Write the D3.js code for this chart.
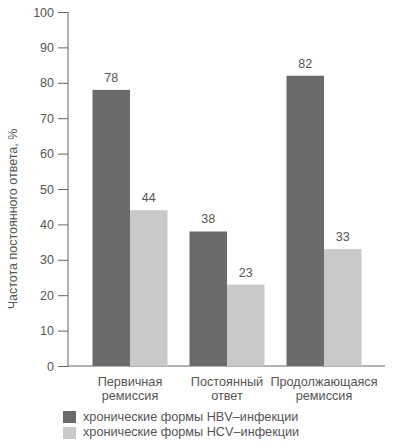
<!DOCTYPE html>
<html><head><meta charset="utf-8">
<script src="https://cdn.jsdelivr.net/npm/d3@7"></script>
<style>body{margin:0;background:#fff;} text{font-family:"Liberation Sans",Arial,sans-serif;fill:#555;}</style>
</head><body>
<svg id="c" width="400" height="442"></svg>
<script>
const categories = [["Первичная","ремиссия"],["Постоянный","ответ"],["Продолжающаяся","ремиссия"]];
const seriesNames = ["хронические формы HBV–инфекции","хронические формы HCV–инфекции"];
const hbv = [78, 38, 82];
const hcv = [44, 23, 33];
const yTicks = [0,10,20,30,40,50,60,70,80,90,100];
const colors = ["#6b6b6b","#c9c9c9"];

const svg = d3.select("#c");
const x0 = d3.scaleBand().domain(d3.range(categories.length)).range([92.5,361.5]).paddingInner(22/97).paddingOuter(0);
const x1 = d3.scaleBand().domain([0,1]).range([0,x0.bandwidth()]);
const y = d3.scaleLinear().domain([0,100]).range([366,12]);

const yAxis = d3.axisLeft(y).tickValues(yTicks).tickSize(10).tickPadding(4);
const gy = svg.append("g").attr("transform","translate(68,0)").call(yAxis);
gy.selectAll("path,line").attr("stroke","#666");
gy.select(".domain").attr("d","M0,12V366");
gy.selectAll("text").style("font-size","12.5px").style("fill","#555").style("font-family","Liberation Sans, Arial, sans-serif");

svg.append("line").attr("x1",68).attr("x2",385).attr("y1",y(0)).attr("y2",y(0)).attr("stroke","#666");

const data = categories.map((c,i)=>[hbv[i],hcv[i]]);
const g = svg.append("g");
data.forEach((vals,i)=>{
  vals.forEach((v,j)=>{
    const bx = x0(i)+x1(j);
    g.append("rect").attr("x",bx).attr("y",y(v)).attr("width",x1.bandwidth()).attr("height",y(0)-y(v)).attr("fill",colors[j]);
    g.append("text").attr("x",bx+x1.bandwidth()/2).attr("y",y(v)-8).attr("text-anchor","middle").style("font-size","12.5px").text(v);
  });
  const t = svg.append("text").attr("text-anchor","middle").style("font-size","12.7px");
  categories[i].forEach((line,k)=>{
    t.append("tspan").attr("x",x0(i)+x0.bandwidth()/2).attr("y",386+k*14).text(line);
  });
});

svg.append("text").attr("transform","translate(17,219) rotate(-90)").attr("text-anchor","middle").style("font-size","12.5px").text("Частота постоянного ответа, %");

seriesNames.forEach((n,j)=>{
  svg.append("rect").attr("x",63).attr("y",411+j*16).attr("width",13).attr("height",12).attr("fill",colors[j]);
  svg.append("text").attr("x",83).attr("y",421+j*15).style("font-size","12.7px").text(n);
});
</script>
</body></html>
